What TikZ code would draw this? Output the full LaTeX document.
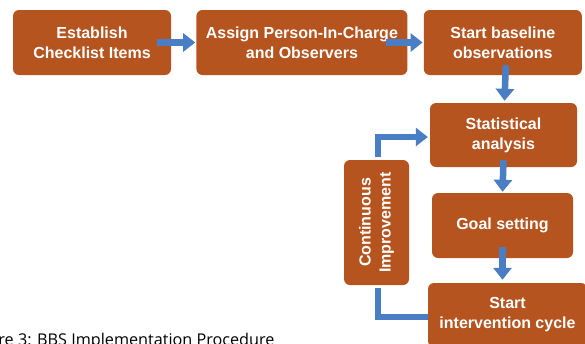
\documentclass[tikz,border=0pt]{standalone}
\usepackage{fontspec}
\setmainfont{Liberation Sans}
\newfontfamily\capfont{Open Sans}
\usetikzlibrary{positioning}
\usetikzlibrary{arrows.meta}

\definecolor{rust}{RGB}{181,84,31}
\definecolor{flowblue}{RGB}{74,126,196}

\tikzset{
  stage/.style={rectangle,rounded corners=6pt,fill=rust,text=white,align=center,
    inner sep=0pt,font=\fontsize{16}{20}\selectfont\bfseries},
  flow/.style={line width=6.5pt,draw=flowblue,->},
  loop/.style={line width=6.5pt,draw=flowblue},
}

\begin{document}
\begin{tikzpicture}[x=1pt,y=-1pt,>={Triangle[width=18pt,length=12pt]}]
    \useasboundingbox (0,0) rectangle (585,343);
    % top row
    \node (chk) [stage,minimum width=158pt,minimum height=65pt] at (92,42.5) {Establish\\Checklist Items};
    \node (pic) [stage,minimum width=211pt,minimum height=65pt,right=25pt of chk] {Assign Person-In-Charge\\and Observers};
    \node (base) [stage,minimum width=158pt,minimum height=65pt,right=16pt of pic] {Start baseline\\observations};
    % right column
    \node (stat) [stage,minimum width=147pt,minimum height=64pt] at (503.5,135) {Statistical\\analysis};
    \node (goal) [stage,minimum width=141pt,minimum height=65pt] at (502.5,225.5) {Goal setting};
    \node (intv) [stage,minimum width=159pt,minimum height=64pt] at (507.5,315) {Start\\intervention cycle};
    \node (ci) [stage,minimum width=125pt,minimum height=65pt,rotate=90] at (376.5,222.5) {Continuous\\Improvement};
    \node (cap) [anchor=base east,font=\capfont\fontsize{16.2}{18}\selectfont] at (278,345) {Figure 3: BBS Implementation Procedure};
    % arrows
    \draw [flow] ([xshift=-14pt]chk.east) -- ([xshift=-1pt]pic.west);
    \draw [flow] ([xshift=-22pt]pic.east) -- ([xshift=-1pt]base.west);
    \draw [flow] ([xshift=3pt,yshift=10pt]base.south) -- ([xshift=1pt,yshift=2pt]stat.north);
    \draw [flow] ([yshift=7pt]stat.south) -- ([yshift=1pt]goal.north);
    \draw [flow] ([yshift=11pt]goal.south) -- ([yshift=3pt]intv.north -| goal);
    % feedback loop
    \draw [loop] ([yshift=-2pt]intv.west) -| ([xshift=1.5pt,yshift=-3pt]ci.west);
    \draw [flow] ([xshift=1.5pt,yshift=3pt]ci.east) |- ([xshift=-2pt,yshift=-2pt]stat.west);
\end{tikzpicture}
\end{document}
